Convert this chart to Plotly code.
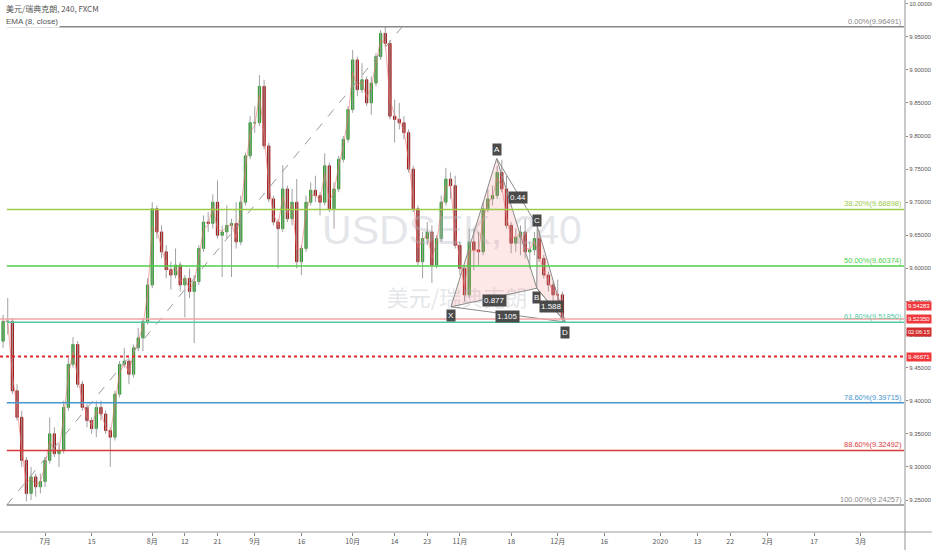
import plotly.graph_objects as go

# daily candles, day index 0 = 1 Jul 2019 (weekends skipped)
days = list(range(-9, 112))
first_open = 9.49
closes = [9.52, 9.52, 9.415, 9.375, 9.31, 9.26, 9.285, 9.27, 9.278,
          9.31, 9.35, 9.32, 9.325, 9.39, 9.455, 9.485, 9.425, 9.39, 9.37,
          9.358, 9.39, 9.38, 9.355, 9.345, 9.41, 9.455, 9.46, 9.44, 9.48,
          9.495, 9.52, 9.575, 9.69, 9.655, 9.625, 9.598, 9.59, 9.605, 9.575,
          9.585, 9.565, 9.58, 9.63, 9.67, 9.668, 9.70, 9.65, 9.655, 9.665,
          9.668, 9.64, 9.70, 9.77, 9.82, 9.82, 9.875, 9.785, 9.705, 9.67,
          9.66, 9.72, 9.675, 9.70, 9.61, 9.63, 9.70, 9.718, 9.71, 9.70,
          9.755, 9.69, 9.72, 9.765, 9.795, 9.84, 9.915, 9.87, 9.885, 9.85,
          9.88, 9.92, 9.955, 9.94, 9.83, 9.825, 9.82, 9.805, 9.75, 9.69,
          9.61, 9.645, 9.655, 9.605, 9.645, 9.70, 9.735, 9.725, 9.635, 9.60,
          9.56, 9.64, 9.628, 9.625, 9.69, 9.705, 9.71, 9.745, 9.72, 9.665,
          9.638, 9.647, 9.655, 9.625, 9.628, 9.645, 9.615, 9.59, 9.575, 9.56,
          9.56, 9.5235]
highs = [9.53, 9.555, 9.525, 9.425, 9.385, 9.315, 9.30, 9.29, 9.29,
         9.315, 9.375, 9.36, 9.335, 9.40, 9.465, 9.496, 9.49, 9.43, 9.395,
         9.375, 9.40, 9.40, 9.385, 9.36, 9.415, 9.46, 9.48, 9.465, 9.485,
         9.51, 9.525, 9.585, 9.70, 9.695, 9.665, 9.635, 9.61, 9.63, 9.61,
         9.59, 9.60, 9.59, 9.635, 9.68, 9.685, 9.712, 9.733, 9.665, 9.695,
         9.675, 9.70, 9.71, 9.775, 9.83, 9.845, 9.892, 9.885, 9.79, 9.71,
         9.675, 9.756, 9.725, 9.72, 9.735, 9.635, 9.71, 9.73, 9.74, 9.715,
         9.774, 9.76, 9.73, 9.77, 9.80, 9.845, 9.93, 9.92, 9.91, 9.89,
         9.89, 9.925, 9.96, 9.965, 9.945, 9.855, 9.85, 9.83, 9.81, 9.755,
         9.695, 9.655, 9.67, 9.665, 9.65, 9.71, 9.752, 9.745, 9.74, 9.64,
         9.605, 9.66, 9.66, 9.655, 9.70, 9.72, 9.725, 9.755, 9.764, 9.74,
         9.67, 9.66, 9.665, 9.675, 9.64, 9.655, 9.658, 9.62, 9.595, 9.58,
         9.583, 9.565]
lows = [9.48, 9.50, 9.41, 9.37, 9.30, 9.248, 9.25, 9.255, 9.26,
        9.27, 9.305, 9.315, 9.30, 9.32, 9.385, 9.45, 9.42, 9.385, 9.36,
        9.35, 9.345, 9.37, 9.35, 9.30, 9.34, 9.405, 9.45, 9.425, 9.435,
        9.475, 9.475, 9.515, 9.57, 9.645, 9.615, 9.585, 9.568, 9.585, 9.565,
        9.526, 9.555, 9.487, 9.575, 9.625, 9.655, 9.66, 9.645, 9.587, 9.645,
        9.587, 9.63, 9.635, 9.695, 9.765, 9.805, 9.815, 9.78, 9.70, 9.665,
        9.60, 9.655, 9.67, 9.665, 9.60, 9.59, 9.625, 9.695, 9.70, 9.68,
        9.695, 9.685, 9.66, 9.715, 9.76, 9.79, 9.835, 9.86, 9.865, 9.845,
        9.832, 9.875, 9.915, 9.935, 9.825, 9.79, 9.81, 9.795, 9.745, 9.685,
        9.605, 9.585, 9.635, 9.578, 9.60, 9.64, 9.695, 9.705, 9.63, 9.59,
        9.55, 9.555, 9.597, 9.605, 9.62, 9.685, 9.695, 9.705, 9.715, 9.66,
        9.623, 9.625, 9.62, 9.615, 9.60, 9.62, 9.61, 9.585, 9.565, 9.55,
        9.545, 9.518]

tick_days = [0, 10, 23, 30, 37, 45, 55, 66, 75, 82, 89, 100, 110, 120,
             132, 140, 147, 155, 165, 175]
tick_text = ["7月", "15", "8月", "12", "21", "9月", "16", "10月", "14", "23",
             "11月", "18", "12月", "16", "2020", "13", "22", "2月", "17", "3月"]

fib_pct = ["0.00%", "38.20%", "50.00%", "61.80%", "78.60%", "88.60%", "100.00%"]
fib_price = [9.96491, 9.68898, 9.60374, 9.51850, 9.39715, 9.32492, 9.24257]
fib_color = ["#888888", "#9bcc4a", "#4cd04c", "#52c9a0", "#4a96cf", "#d9393b", "#888888"]
fib_start_day = -8.2
fib_end_day = 76.6

last_price = 9.5235
ask_price = 9.54283
alert_price = 9.46671
countdown = "02:06:15"

# harmonic XABCD points
pat_names = ["X", "A", "B", "C", "D"]
pat_days = [87.1, 96.9, 105.5, 105.6, 111.6]
pat_prices = [9.542, 9.766, 9.570, 9.664, 9.519]
label_shift = [-9, 9, -9, 6, -11]
ratio_text = ["0.877", "0.44", "1.588", "1.105"]
ratio_days = [96.4, 101.4, 108.7, 99.2]
ratio_prices = [9.552, 9.707, 9.542, 9.527]

watermark = ["USDSEK, 240", "美元/瑞典克朗"]
watermark_days = [87.3, 88.4]
watermark_prices = [9.652, 9.551]

x_range = [-9.66, 184.5]
y_range = [9.2017, 10.0055]

opens = [first_open] + closes[:-1]
highs = [max(h, o, c) for h, o, c in zip(highs, opens, closes)]
lows = [min(l, o, c) for l, o, c in zip(lows, opens, closes)]

# EMA(8) of 4h bars, six bars per trading day
alpha = 1 - (1 - 2 / 9) ** 6
ema = []
for c in closes:
    ema.append(c if not ema else ema[-1] + alpha * (c - ema[-1]))

FONT = "Liberation Sans Narrow, Liberation Sans, Arial, sans-serif"
WM = "rgba(185,190,200,0.40)"

fig = go.Figure()

# watermark under everything
fig.add_trace(go.Scatter(x=watermark_days[:1], y=watermark_prices[:1], mode="text",
                         text=watermark[:1], textposition="middle center",
                         textfont=dict(family=FONT, size=41, color=WM), hoverinfo="skip"))
fig.add_trace(go.Scatter(x=watermark_days[1:], y=watermark_prices[1:], mode="text",
                         text=watermark[1:], textposition="middle center",
                         textfont=dict(family="Noto Sans CJK SC", size=22, color=WM),
                         hoverinfo="skip"))

# wicks
wx, wy = [], []
for d, h, l in zip(days, highs, lows):
    wx += [d, d, None]
    wy += [l, h, None]
fig.add_trace(go.Scatter(x=wx, y=wy, mode="lines",
                         line=dict(color="#a0a0a0", width=1), hoverinfo="skip"))

# pattern triangles
X, A, B, C, D = [(d, p) for d, p in zip(pat_days, pat_prices)]
for tri in [(X, A, B), (B, C, D)]:
    fig.add_trace(go.Scatter(x=[t[0] for t in tri] + [tri[0][0]],
                             y=[t[1] for t in tri] + [tri[0][1]],
                             mode="lines", fill="toself",
                             fillcolor="rgba(242,120,120,0.18)",
                             line=dict(color="#8a8a8a", width=1), hoverinfo="skip"))
for p, q in [(X, D), (A, C), (B, D)]:
    fig.add_trace(go.Scatter(x=[p[0], q[0]], y=[p[1], q[1]], mode="lines",
                             line=dict(color="#8a8a8a", width=1), hoverinfo="skip"))

# bodies
fig.add_trace(go.Candlestick(
    x=days, open=opens, close=closes,
    high=[max(o, c) for o, c in zip(opens, closes)],
    low=[min(o, c) for o, c in zip(opens, closes)],
    increasing=dict(line=dict(color="#2f9e2f", width=1), fillcolor="#2f9e2f"),
    decreasing=dict(line=dict(color="#a51a1a", width=1), fillcolor="#a51a1a"),
    whiskerwidth=0, hoverinfo="skip"))

fig.add_trace(go.Scatter(x=days, y=ema, mode="lines",
                         line=dict(color="rgba(240,110,110,0.6)", width=1),
                         hoverinfo="skip"))

shapes = []
annotations = []

# fib diagonal
shapes.append(dict(type="line", xref="x", yref="y", x0=fib_start_day, y0=fib_price[-1],
                   x1=fib_end_day, y1=fib_price[0],
                   line=dict(color="#9a9a9a", width=1, dash="dash")))
for pct, price, col in zip(fib_pct, fib_price, fib_color):
    shapes.append(dict(type="line", xref="x", yref="y", x0=fib_start_day, x1=x_range[1],
                       y0=price, y1=price, line=dict(color=col, width=1.5)))
    annotations.append(dict(x=x_range[1] - 0.3, y=price, xref="x", yref="y",
                            text=f"{pct}({price:.5f})", showarrow=False,
                            xanchor="right", yanchor="bottom", yshift=-1,
                            font=dict(family=FONT, size=7.5, color=col)))

shapes.append(dict(type="line", xref="paper", yref="y", x0=0, x1=1,
                   y0=last_price, y1=last_price,
                   line=dict(color="#f4a3a3", width=1.5)))
shapes.append(dict(type="line", xref="paper", yref="y", x0=0, x1=1,
                   y0=alert_price, y1=alert_price,
                   line=dict(color="#e0282e", width=2, dash="dot")))

# axis frame lines
shapes.append(dict(type="line", xref="paper", yref="paper", x0=1, x1=1, y0=-0.04, y1=1,
                   line=dict(color="#c8c8c8", width=2)))
shapes.append(dict(type="line", xref="paper", yref="paper", x0=0, x1=1.03, y0=0, y1=0,
                   line=dict(color="#9a9a9a", width=1)))

# header
annotations.append(dict(x=0.004, y=0.998, xref="paper", yref="paper",
                        text="美元/瑞典克朗, 240, FXCM", showarrow=False,
                        xanchor="left", yanchor="top",
                        font=dict(family="Noto Sans CJK SC", size=8, color="#555555")))
annotations.append(dict(x=0.004, y=0.972, xref="paper", yref="paper",
                        text="EMA (8, close)", showarrow=False,
                        xanchor="left", yanchor="top", bgcolor="white",
                        font=dict(family=FONT, size=8, color="#555555")))

# pattern labels
for name, d, p, off in zip(pat_names, pat_days, pat_prices, label_shift):
    annotations.append(dict(x=d, y=p, xref="x", yref="y", text=name, showarrow=False,
                            yshift=off, bgcolor="#4a4a4a", borderpad=1,
                            font=dict(family=FONT, size=8, color="white")))
for t, d, p in zip(ratio_text, ratio_days, ratio_prices):
    annotations.append(dict(x=d, y=p, xref="x", yref="y", text=t, showarrow=False,
                            bgcolor="#4a4a4a", borderpad=1,
                            font=dict(family=FONT, size=8, color="white")))

# price-axis tags
for val, txt in [(ask_price, f"{ask_price:.5f}"), (last_price, f"{last_price:.5f}"),
                 (alert_price, f"{alert_price:.5f}")]:
    annotations.append(dict(x=1.001, y=val, xref="paper", yref="y", text=txt,
                            showarrow=False, xanchor="left", bgcolor="#f0383c", borderpad=1,
                            font=dict(family=FONT, size=6, color="white")))
annotations.append(dict(x=1.001, y=last_price, xref="paper", yref="y", text=countdown,
                        showarrow=False, xanchor="left", yshift=-13, bgcolor="#d32f2f",
                        borderpad=1, font=dict(family=FONT, size=5.6, color="white")))

fig.update_layout(
    width=932, height=550,
    margin=dict(l=0, r=27, t=0, b=18, autoexpand=False),
    paper_bgcolor="white", plot_bgcolor="white",
    showlegend=False,
    shapes=shapes, annotations=annotations,
    xaxis=dict(range=x_range, showgrid=False, zeroline=False, showline=False,
               automargin=False,
               tickmode="array", tickvals=tick_days, ticktext=tick_text,
               ticks="outside", ticklen=3, tickcolor="#888",
               tickfont=dict(family="Noto Sans CJK SC", size=7, color="#555"),
               rangeslider=dict(visible=False), fixedrange=True),
    yaxis=dict(range=y_range, side="right", showgrid=False, zeroline=False,
               automargin=False,
               tickmode="linear", tick0=9.25, dtick=0.05, tickformat=".5f",
               ticks="outside", ticklen=2, tickcolor="#888",
               tickfont=dict(family=FONT, size=6, color="#555"), fixedrange=True),
)

fig.write_html("out.html", config={"displayModeBar": False},
               post_script="document.body.style.margin='0px';")
